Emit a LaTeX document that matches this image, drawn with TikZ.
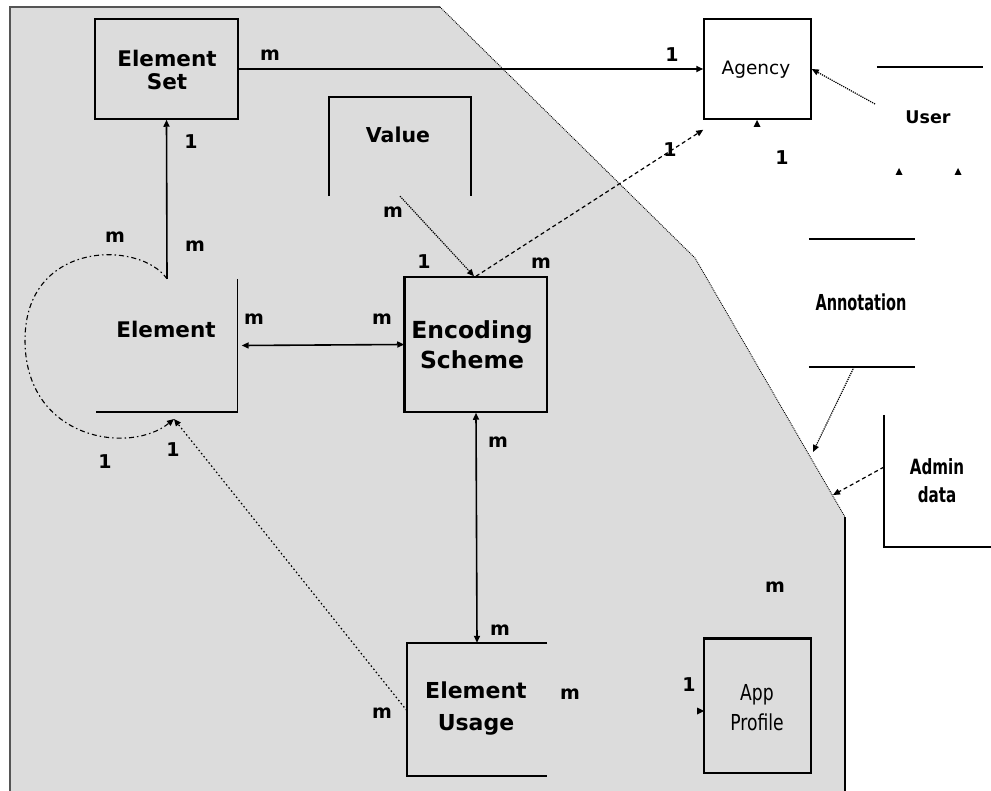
\documentclass[tikz,border=0pt]{standalone}
\usepackage{fontspec}
\usetikzlibrary{arrows.meta}
\newfontfamily\dv{DejaVu Sans}
\definecolor{regiongray}{HTML}{DCDCDC}
\definecolor{edgegray}{HTML}{555555}
\tikzset{
  tip/.style={-{Triangle[length=7pt,width=6pt]}},
  dtip/.style={{Triangle[length=7pt,width=6pt]}-{Triangle[length=7pt,width=6pt]}},
  conn/.style={line width=1.6pt},
  dotconn/.style={line width=1.2pt,densely dotted},
  dashconn/.style={line width=1.2pt,dash pattern=on 4pt off 3pt},
  ent/.style={draw,line width=1.5pt,minimum width=#1,inner sep=0pt},
  area/.style={inner sep=0pt},
  lbl/.style={font=\dv\bfseries\fontsize{19}{19}\selectfont,inner sep=0pt},
  big/.style={font=\dv\bfseries\fontsize{21.5}{23}\selectfont,align=center,inner sep=0pt},
  side/.style={line width=1.5pt},
}
\begin{document}
\begin{tikzpicture}[x=1pt,y=-1pt]
\useasboundingbox (0,0) rectangle (991,791);
% grey region
\fill[regiongray] (10,7) -- (440,7) -- (695,258) -- (845,517) -- (845,791) -- (10,791) -- cycle;
\draw[edgegray,line width=1.6pt] (10,791) -- (10,7) -- (440,7);
\draw[line width=0.9pt,densely dotted] (440,7) -- (695,258) -- (845,517);
\draw[line width=1.2pt] (845,517) -- (845,791);

% entities
\node[ent=143pt,minimum height=100pt,fill=regiongray] (eset) at (166.5,69) {};
\node[big] (esett) at (167,70) {Element\\Set};
\node[ent=107pt,minimum height=100pt,fill=white] (agency) at (757.5,69) {};
\node[font=\dv\fontsize{18.5}{18}\selectfont,inner sep=0pt] (agencyt) at (756,70) {Agency};

\node[area,minimum width=142pt,minimum height=99pt] (value) at (400,146.5) {};
\draw[side] (value.south west) -- (value.north west) -- (value.north east) -- (value.south east);
\node[font=\dv\bfseries\fontsize{20.5}{19}\selectfont,inner sep=0pt] (valuet) at (398,135) {Value};

\node[area,minimum width=141pt,minimum height=133pt] (element) at (167,345.5) {};
\draw[side] (element.north east) -- (element.south east) -- (element.south west);
\node[big] (elementt) at (166,329) {Element};

\node[ent=142pt,minimum height=135pt] (encoding) at (476,344.5) {};
\draw[line width=2.8pt] (encoding.south west) -- (encoding.north west);
\node[font=\dv\bfseries\fontsize{23.5}{30}\selectfont,align=center,inner sep=0pt] (encodingt) at (472,345) {Encoding\\Scheme};

\node[area,minimum width=140pt,minimum height=133pt] (usage) at (477,709.5) {};
\draw[side] (usage.north east) -- (usage.north west) -- (usage.south west) -- (usage.south east);
\node[font=\dv\bfseries\fontsize{22}{32}\selectfont,align=center,inner sep=0pt] (usaget) at (476,709) {Element\\Usage};

\node[ent=107pt,minimum height=134pt] (app) at (757.5,706) {};
\draw[line width=2.6pt] (app.north west) -- (app.north east);
\node[font=\dv\fontsize{22}{30}\selectfont,align=center,inner sep=0pt,xscale=0.78] (appt) at (757,708) {App\\Profile};

% outside-region fragments
\node[area,minimum width=106pt,minimum height=1pt] (user) at (930,67) {};
\draw[side] (user.west) -- (user.east);
\node[font=\dv\bfseries\fontsize{17.5}{16}\selectfont,inner sep=0pt] (usert) at (928,117) {User};
\fill (895.5,175) -- (902.5,175) -- (899,168) -- cycle;
\fill (954.5,175) -- (961.5,175) -- (958,168) -- cycle;

\node[area,minimum width=106pt,minimum height=128pt] (annot) at (862,303) {};
\draw[side] (annot.north west) -- (annot.north east);
\draw[side] (annot.south west) -- (annot.south east);
\node[font=\dv\bfseries\fontsize{22}{21}\selectfont,inner sep=0pt,xscale=0.66] (annott) at (861,302) {Annotation};

\node[area,minimum width=107pt,minimum height=132pt] (admin) at (937.5,481) {};
\draw[side] (admin.north west) -- (admin.south west) -- (admin.south east);
\node[font=\dv\bfseries\fontsize{21}{28}\selectfont,align=center,inner sep=0pt,xscale=0.72] (admint) at (937,481) {Admin\\data};

% connector end points
\coordinate (elb) at (174,419);
\coordinate (userstart) at (875,104);
\coordinate (annotstart) at (854,367);
\coordinate (annotend) at (813,452);
\coordinate (adminstart) at (884,467);
\coordinate (adminend) at (833,495);

% connectors
\draw[conn,tip] (eset.east) -- (agency.west);
\draw[conn,tip] (element.north) -- (eset.south);
\draw[line width=1.1pt,dash pattern=on 5pt off 3pt on 1.5pt off 3pt,tip] (element.north) .. controls (140,240) and (25,240) .. (25,340) .. controls (25,440) and (130,455) .. (elb);
\draw[conn,dtip] ([xshift=4pt]element.east) -- (encoding.west);
\draw[dotconn,tip] (value.south) -- ([xshift=-2pt]encoding.north);
\draw[dashconn,tip] (encoding.north) -- ([yshift=-10pt]agency.south west);
\draw[dotconn,tip] (userstart) -- (agency.east);
\draw[conn,dtip] (encoding.south) -- (usage.north);
\draw[line width=1.2pt,dash pattern=on 1.5pt off 2.5pt,tip] ([yshift=-1pt]usage.west) -- (elb);
\draw[dotconn,tip] (annotstart) -- (annotend);
\draw[dashconn,tip] (adminstart) -- (adminend);
% stray arrow tips
\fill (753.5,127) -- (760.5,127) -- (757,120) -- cycle;
\fill (697,707.5) -- (697,714.5) -- (704,711) -- cycle;

% cardinality labels
\node[lbl] (l1) at (270,55) {m};
\node[lbl] (l2) at (672,55) {1};
\node[lbl] (l3) at (191,142) {1};
\node[lbl] (l4) at (195,246) {m};
\node[lbl] (l5) at (115,237) {m};
\node[lbl] (l6) at (105,462) {1};
\node[lbl] (l7) at (173,450) {1};
\node[lbl] (l8) at (254,319) {m};
\node[lbl] (l9) at (382,319) {m};
\node[lbl] (l10) at (393,212) {m};
\node[lbl] (l11) at (424,262) {1};
\node[lbl] (l12) at (541,263) {m};
\node[lbl] (l13) at (670,150) {1};
\node[lbl] (l14) at (782,158) {1};
\node[lbl] (l15) at (498,442) {m};
\node[lbl] (l16) at (500,630) {m};
\node[lbl] (l17) at (382,713) {m};
\node[lbl] (l18) at (570,694) {m};
\node[lbl] (l19) at (775,587) {m};
\node[lbl] (l20) at (689,685) {1};
\end{tikzpicture}
\end{document}
